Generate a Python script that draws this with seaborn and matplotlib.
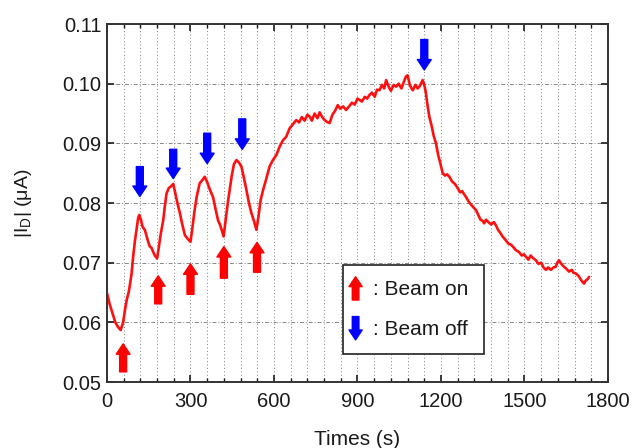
import numpy as np
import pandas as pd
import matplotlib
matplotlib.use("Agg")
import matplotlib.pyplot as plt
import seaborn as sns
from matplotlib.patches import FancyArrowPatch, Patch
from matplotlib.legend_handler import HandlerPatch
from matplotlib.ticker import MultipleLocator, FormatStrFormatter

# ---- data ----
time_s = [0, 10, 20, 30, 40, 49, 58, 66, 72, 78, 82, 88, 94, 100, 106, 112, 116, 122, 128, 136,
          142, 148, 154, 160, 166, 172, 180, 186, 192, 202, 208, 214, 222, 230, 238, 246, 254, 262,
          270, 280, 290, 300, 306, 314, 322, 333, 342, 351, 360, 370, 381, 390, 399, 405, 412, 419,
          426, 434, 441, 448, 456, 465, 474, 483, 492, 501, 510, 519, 528, 537, 545, 552, 561, 572,
          584, 596, 608, 620, 632, 644, 656, 668, 680, 690, 700, 710, 720, 728, 736, 746, 756, 764,
          772, 780, 790, 800, 810, 820, 829, 838, 848, 859, 870, 880, 890, 900, 907, 916, 926, 935,
          943, 952, 962, 970, 979, 988, 996, 1003, 1012, 1020, 1030, 1039, 1048, 1058, 1068, 1074,
          1080, 1088, 1094, 1099, 1108, 1116, 1124, 1130, 1134, 1140, 1146, 1152, 1158, 1166, 1174,
          1182, 1190, 1198, 1206, 1214, 1222, 1230, 1240, 1250, 1260, 1268, 1276, 1284, 1290, 1300,
          1312, 1326, 1334, 1342, 1350, 1355, 1362, 1370, 1380, 1390, 1397, 1405, 1413, 1421, 1432,
          1442, 1452, 1460, 1469, 1480, 1490, 1498, 1505, 1514, 1522, 1530, 1541, 1550, 1560, 1568,
          1577, 1585, 1595, 1604, 1612, 1618, 1624, 1632, 1640, 1650, 1660, 1670, 1676, 1684, 1694,
          1702, 1708, 1714, 1720, 1726, 1732]
current_uA = [0.0649, 0.0630, 0.0615, 0.0600, 0.0592, 0.0587, 0.0600, 0.0625, 0.0640, 0.0650,
              0.0662, 0.0680, 0.0710, 0.0735, 0.0755, 0.0775, 0.0780, 0.0772, 0.0760, 0.0755,
              0.0745, 0.0735, 0.0727, 0.0725, 0.0718, 0.0712, 0.0707, 0.0725, 0.0745, 0.0771,
              0.0795, 0.0816, 0.0825, 0.0828, 0.0832, 0.0815, 0.0798, 0.0783, 0.0765, 0.0746,
              0.0740, 0.0735, 0.0755, 0.0785, 0.0810, 0.0833, 0.0838, 0.0844, 0.0835, 0.0822,
              0.0810, 0.0790, 0.0771, 0.0765, 0.0755, 0.0744, 0.0770, 0.0800, 0.0822, 0.0845,
              0.0865, 0.0872, 0.0868, 0.0861, 0.0842, 0.0822, 0.0800, 0.0783, 0.0770, 0.0755,
              0.0780, 0.0805, 0.0822, 0.0840, 0.0861, 0.0872, 0.0880, 0.0894, 0.0905, 0.0911,
              0.0925, 0.0932, 0.0939, 0.0935, 0.0944, 0.0938, 0.0948, 0.0945, 0.0938, 0.0950,
              0.0942, 0.0952, 0.0945, 0.0940, 0.0936, 0.0934, 0.0948, 0.0955, 0.0964, 0.0958,
              0.0962, 0.0956, 0.0962, 0.0968, 0.0965, 0.0975, 0.0973, 0.0970, 0.0978, 0.0975,
              0.0981, 0.0985, 0.0978, 0.0990, 0.0989, 0.0998, 0.0992, 0.1006, 0.0995, 0.0988,
              0.0998, 0.0995, 0.1000, 0.0992, 0.1005, 0.1012, 0.1014, 0.0998, 0.0992, 0.0989,
              0.0998, 0.0992, 0.0996, 0.1002, 0.1006, 0.0998, 0.0984, 0.0962, 0.0945, 0.0930,
              0.0912, 0.0900, 0.0880, 0.0866, 0.0850, 0.0846, 0.0848, 0.0844, 0.0836, 0.0832,
              0.0825, 0.0818, 0.0820, 0.0814, 0.0810, 0.0802, 0.0795, 0.0788, 0.0780, 0.0772,
              0.0770, 0.0766, 0.0772, 0.0768, 0.0764, 0.0768, 0.0763, 0.0755, 0.0750, 0.0744,
              0.0738, 0.0732, 0.0730, 0.0726, 0.0721, 0.0718, 0.0712, 0.0714, 0.0710, 0.0705,
              0.0712, 0.0708, 0.0704, 0.0698, 0.0700, 0.0692, 0.0688, 0.0692, 0.0688, 0.0692,
              0.0693, 0.0700, 0.0704, 0.0698, 0.0694, 0.0690, 0.0685, 0.0688, 0.0683, 0.0682,
              0.0678, 0.0672, 0.0668, 0.0665, 0.0670, 0.0672, 0.0676]

# beam on (red, up) arrows: time, tail, tip
beam_on_t = [58, 184, 300, 420, 539]
beam_on_tail = [0.0517, 0.0631, 0.0647, 0.0674, 0.0684]
beam_on_tip = [0.0564, 0.0678, 0.0698, 0.0727, 0.0734]
# beam off (blue, down) arrows: time, tail, tip
beam_off_t = [118, 238, 360, 486, 1140]
beam_off_tail = [0.0861, 0.0890, 0.0917, 0.0941, 0.1074]
beam_off_tip = [0.0811, 0.0841, 0.0866, 0.0890, 0.1023]

x_ticks = [0, 300, 600, 900, 1200, 1500, 1800]
y_ticks = [0.05, 0.06, 0.07, 0.08, 0.09, 0.10, 0.11]
legend_labels = [": Beam on", ": Beam off"]

df = pd.DataFrame({"t": time_s, "I": current_uA})

sns.set_style("ticks")
plt.rcParams["font.family"] = ["Liberation Sans", "DejaVu Sans"]
plt.rcParams["mathtext.fontset"] = "custom"
plt.rcParams["mathtext.rm"] = "Liberation Sans"
plt.rcParams["mathtext.it"] = "Liberation Sans:italic"

TXT = "#1a1a1a"
fig = plt.figure(figsize=(6.33, 4.48), dpi=100)
ax = fig.add_axes([0.169, 0.1473, 0.7915, 0.7991])

sns.lineplot(data=df, x="t", y="I", color="#ff1010", linewidth=1.9, ax=ax, sort=False)

ARROW_STYLE = "simple,head_width=1.0,head_length=0.75,tail_width=0.5"
for t, a, b in zip(beam_on_t, beam_on_tail, beam_on_tip):
    ax.add_patch(FancyArrowPatch((t, a), (t, b), arrowstyle=ARROW_STYLE, mutation_scale=10,
                                 color="#ff0000", shrinkA=0, shrinkB=0, zorder=5))
for t, a, b in zip(beam_off_t, beam_off_tail, beam_off_tip):
    ax.add_patch(FancyArrowPatch((t, a), (t, b), arrowstyle=ARROW_STYLE, mutation_scale=10,
                                 color="#0000ff", shrinkA=0, shrinkB=0, zorder=5))

ax.set_xlim(0, 1800)
ax.set_ylim(0.05, 0.11)
ax.set_xticks(x_ticks)
ax.set_yticks(y_ticks)
ax.xaxis.set_minor_locator(MultipleLocator(60))
ax.yaxis.set_major_formatter(FormatStrFormatter("%.2f"))

ax.grid(which="both", axis="x", linestyle=(0, (1, 2.5)), color="#808080", linewidth=0.7)
ax.grid(which="major", axis="y", linestyle=(0, (4, 2, 1, 2)), color="#888888", linewidth=0.7)

ax.tick_params(axis="x", which="major", pad=7)
ax.tick_params(axis="y", which="major", pad=4)
ax.tick_params(which="major", direction="in", length=5, width=1.2, top=True, right=True,
               labelsize=14.5, colors=TXT)
ax.tick_params(which="minor", direction="in", length=3, width=1.0, top=True, right=False,
               colors=TXT)
for s in ax.spines.values():
    s.set_linewidth(1.4)
    s.set_color("#333333")

ax.set_xlabel("Times (s)", fontsize=15, color=TXT, labelpad=14)
ax.set_ylabel(r"|I$_\mathrm{D}$| (μA)", fontsize=14, color=TXT, va="center")
ax.yaxis.set_label_coords(-(107 - 24) / 501, 0.5)


class ArrowHandler(HandlerPatch):
    def __init__(self, up, **kw):
        super().__init__(**kw)
        self.up = up

    def create_artists(self, legend, orig_handle, xdescent, ydescent, width, height,
                       fontsize, trans):
        x = -xdescent - 1.7
        lo = -ydescent - height * 0.35
        hi = -ydescent + height * 1.25
        a, b = (lo, hi) if self.up else (hi, lo)
        p = FancyArrowPatch((x, a), (x, b), arrowstyle=ARROW_STYLE, mutation_scale=9.5,
                            color=orig_handle.get_facecolor(), shrinkA=0, shrinkB=0,
                            transform=trans)
        return [p]


h_on = Patch(facecolor="#ff0000")
h_off = Patch(facecolor="#0000ff")
leg = ax.legend([h_on, h_off], legend_labels,
                handler_map={h_on: ArrowHandler(True), h_off: ArrowHandler(False)},
                loc="upper left", bbox_to_anchor=(0.471, 0.327), borderaxespad=0,
                fontsize=15, handlelength=0.4, handletextpad=0.33, labelspacing=1.0,
                borderpad=0.72, fancybox=False, framealpha=1, edgecolor="#222222")
leg.get_frame().set_linewidth(1.2)
for txt in leg.get_texts():
    txt.set_color(TXT)

fig.savefig("out.png", dpi=100)
